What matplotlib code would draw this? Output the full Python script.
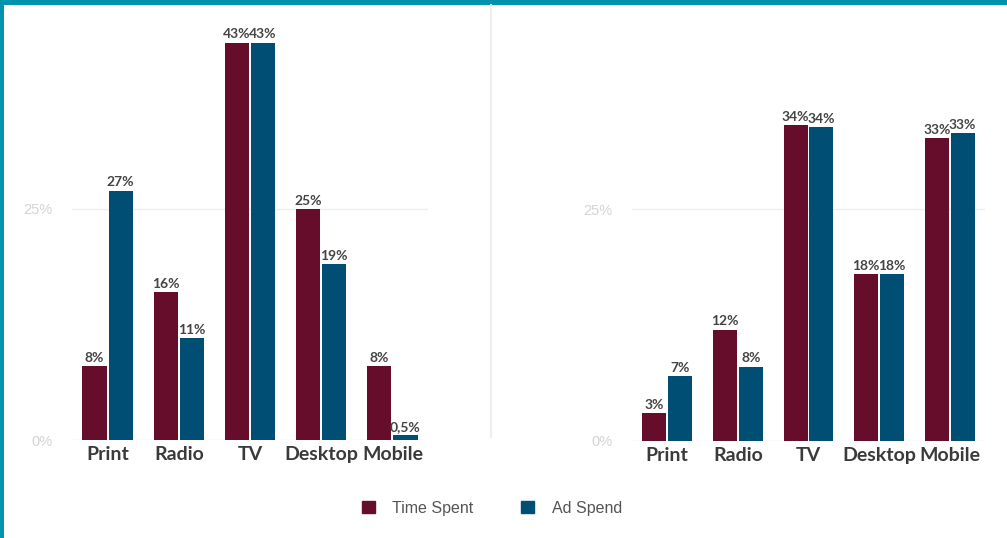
import numpy as np
import matplotlib
matplotlib.use("Agg")
import matplotlib.pyplot as plt
from matplotlib.patches import Rectangle, Patch
from matplotlib.lines import Line2D

plt.rcParams['font.family'] = ['Lato', 'DejaVu Sans']

# data
categories = ["Print", "Radio", "TV", "Desktop", "Mobile"]
left_time = [8, 16, 43, 25, 8]
left_ad = [27, 11, 43, 19, 0.5]
left_time_lbl = ["8%", "16%", "43%", "25%", "8%"]
left_ad_lbl = ["27%", "11%", "43%", "19%", "0,5%"]
right_time = [3, 12, 34, 18, 32.6]
right_ad = [7, 8, 33.8, 18, 33.2]
right_time_lbl = ["3%", "12%", "34%", "18%", "33%"]
right_ad_lbl = ["7%", "8%", "34%", "18%", "33%"]
series_names = ["Time Spent", "Ad Spend"]
yticks = [0, 25]
ytick_labels = ["0%", "25%"]

maroon = "#650D2A"
blue = "#004E74"
teal = "#0093AD"

W, H = 1007, 538
fig = plt.figure(figsize=(W / 100, H / 100), dpi=100)

def px_axes(x0, x1, y0_px, top_px):
    return fig.add_axes([x0 / W, 1 - y0_px / H, (x1 - x0) / W, (y0_px - top_px) / H])

def draw_panel(ax, t_vals, a_vals, t_lbls, a_lbls, px_per_pct, top_px, y0_px):
    x = np.arange(len(categories))
    w = 0.34
    off = 0.183
    ax.bar(x - off, t_vals, w, color=maroon, zorder=3)
    ax.bar(x + off, a_vals, w, color=blue, zorder=3)
    for xi, v, s in zip(x, t_vals, t_lbls):
        ax.text(xi - off, v + 0.25, s, ha="center", va="bottom", fontsize=10,
                fontweight="bold", color="#444444")
    for xi, v, s in zip(x, a_vals, a_lbls):
        ax.text(xi + off, v + 0.25, s, ha="center", va="bottom", fontsize=10,
                fontweight="bold", color="#444444")
    ax.set_xlim(-0.5, 4.5)
    ax.set_ylim(0, (y0_px - top_px) / px_per_pct)
    ax.set_yticks(yticks)
    ax.set_yticklabels(ytick_labels, color="#d4d4d4", fontsize=10.5,
                       family=["Liberation Sans", "DejaVu Sans"])
    ax.set_xticks(x)
    ax.set_xticklabels(categories, fontsize=14, fontweight="bold", color="#3a3a3a")
    ax.tick_params(axis="both", length=0)
    ax.tick_params(axis="y", pad=14)
    ax.tick_params(axis="x", pad=4)
    ax.grid(axis="y", color="#eeeeee", linewidth=1, zorder=0)
    for sp in ax.spines.values():
        sp.set_visible(False)

ax1 = px_axes(72, 428, 440, 25)
draw_panel(ax1, left_time, left_ad, left_time_lbl, left_ad_lbl, 9.24, 25, 440)

ax2 = px_axes(632, 985, 441, 25)
draw_panel(ax2, right_time, right_ad, right_time_lbl, right_ad_lbl, 9.28, 25, 441)

# divider
fig.add_artist(Line2D([490.5 / W, 490.5 / W], [1 - 5 / H, 1 - 437 / H],
                      color="#eeeeee", linewidth=1.5))

# border
fig.add_artist(Rectangle((0, 1 - 5 / H), 1, 5 / H, color=teal, lw=0))
fig.add_artist(Rectangle((0, 0), 4 / W, 1, color=teal, lw=0))

handles = [Patch(color=maroon), Patch(color=blue)]
fig.legend(handles, series_names, loc="center", bbox_to_anchor=(492 / W, 1 - 508 / H),
           ncol=2, frameon=False, handlelength=0.8, handleheight=0.8,
           columnspacing=3.0, handletextpad=1.1, labelcolor="#555555",
           prop={"family": ["Liberation Sans", "DejaVu Sans"], "size": 11.5})

fig.savefig("out.png", dpi=100)
